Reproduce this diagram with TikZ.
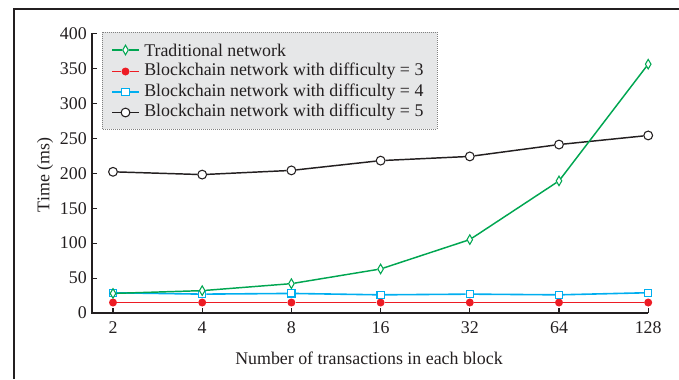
\documentclass[tikz,border=0pt]{standalone}
\usepackage{fontspec}
\setmainfont{Liberation Serif}
\usetikzlibrary{shapes.geometric}
\definecolor{tradgreen}{HTML}{00A651}
\definecolor{diffred}{HTML}{ED1C24}
\definecolor{diffcyan}{HTML}{00AEEF}
\definecolor{inkgray}{HTML}{231F20}
\definecolor{legendbg}{HTML}{E6E7E8}

\tikzset{
  plotfont/.style={font=\fontsize{13.4}{15}\selectfont, text=inkgray},
  tradmark/.style={diamond, draw=tradgreen, fill=white, line width=0.8pt, inner sep=0pt, minimum width=4.5pt, minimum height=7.5pt},
  redmark/.style={circle, fill=diffred, inner sep=0pt, minimum size=6pt},
  cyanmark/.style={rectangle, draw=diffcyan, fill=white, line width=0.8pt, inner sep=0pt, minimum size=5.4pt},
  blackmark/.style={circle, draw=inkgray, fill=white, line width=0.8pt, inner sep=0pt, minimum size=6.6pt},
  tradline/.style={line width=1.1pt, tradgreen},
  redline/.style={line width=1.4pt, diffred},
  cyanline/.style={line width=1.2pt, diffcyan},
  blackline/.style={line width=1.1pt, inkgray},
}

\begin{document}
\begin{tikzpicture}[x=0.75pt, y=-0.75pt]
  \useasboundingbox (0,0) rectangle (679,379);

  % Cadre exterieur (haut et gauche)
  \draw[line width=1.1pt, inkgray] (679,9) -- (14,9) -- (14,379);

  % Axes
  \draw[line width=0.8pt, inkgray] (92,33.4) -- (92,313) -- (648,313);
  \foreach \v in {0,50,...,400} {
    \draw[line width=0.8pt, inkgray] (92,{313-0.699*\v}) -- ++(5,0);
    \node[plotfont, anchor=east, inner sep=0pt] (ytick\v) at (87,{313-0.699*\v}) {\v};
  }
  \foreach \n [count=\i from 0] in {2,4,8,16,32,64,128} {
    \draw[line width=0.8pt, inkgray] ({113+89.2*\i},313) -- ++(0,-5);
    \node[plotfont, anchor=north, inner sep=0pt] (xtick\n) at ({113+89.2*\i},321) {\n};
  }
  \node[plotfont, rotate=90] (ylabel) at (45,175) {Time (ms)};
  \node[plotfont] (xlabel) at (369,358) {Number of transactions in each block};

  % Difficulte = 5
  \foreach \v [count=\i from 0] in {202,198,204,218,224,241,254} {
    \node[blackmark] (b\i) at ({113+89.2*\i},{313-0.699*\v}) {};
  }
  \draw[blackline] (b0) -- (b1) -- (b2) -- (b3) -- (b4) -- (b5) -- (b6);

  % Difficulte = 3
  \foreach \v [count=\i from 0] in {15,15,15,15,15,15,15} {
    \node[redmark] (r\i) at ({113+89.2*\i},{313-0.699*\v}) {};
  }
  \draw[redline] (r0) -- (r1) -- (r2) -- (r3) -- (r4) -- (r5) -- (r6);

  % Difficulte = 4
  \foreach \v [count=\i from 0] in {29,27,28,26,27,26,29} {
    \node[cyanmark] (c\i) at ({113+89.2*\i},{313-0.699*\v}) {};
  }
  \draw[cyanline] (c0) -- (c1) -- (c2) -- (c3) -- (c4) -- (c5) -- (c6);

  % Reseau traditionnel
  \foreach \v [count=\i from 0] in {28,32,42,63,105,189,356} {
    \node[tradmark] (t\i) at ({113+89.2*\i},{313-0.699*\v}) {};
  }
  \draw[tradline] (t0) -- (t1) -- (t2) -- (t3) -- (t4) -- (t5) -- (t6);

  % Legende
  \draw[fill=legendbg, draw=gray, line width=0.5pt, densely dotted] (102,32) rectangle (437,129);
  \foreach \y/\mk/\ln/\txt [count=\k] in {
      50/tradmark/tradline/Traditional network,
      71.5/redmark/redline/Blockchain network with difficulty = 3,
      92/cyanmark/cyanline/Blockchain network with difficulty = 4,
      112.5/blackmark/blackline/Blockchain network with difficulty = 5} {
    \coordinate (legA\k) at (112,\y);
    \coordinate (legB\k) at (139,\y);
    \node[\mk] (legM\k) at (125.5,\y) {};
    \draw[\ln] (legA\k) -- (legM\k) -- (legB\k);
    \node[plotfont, anchor=west, inner sep=0pt] (legT\k) at (144,\y) {\txt};
  }
\end{tikzpicture}
\end{document}
